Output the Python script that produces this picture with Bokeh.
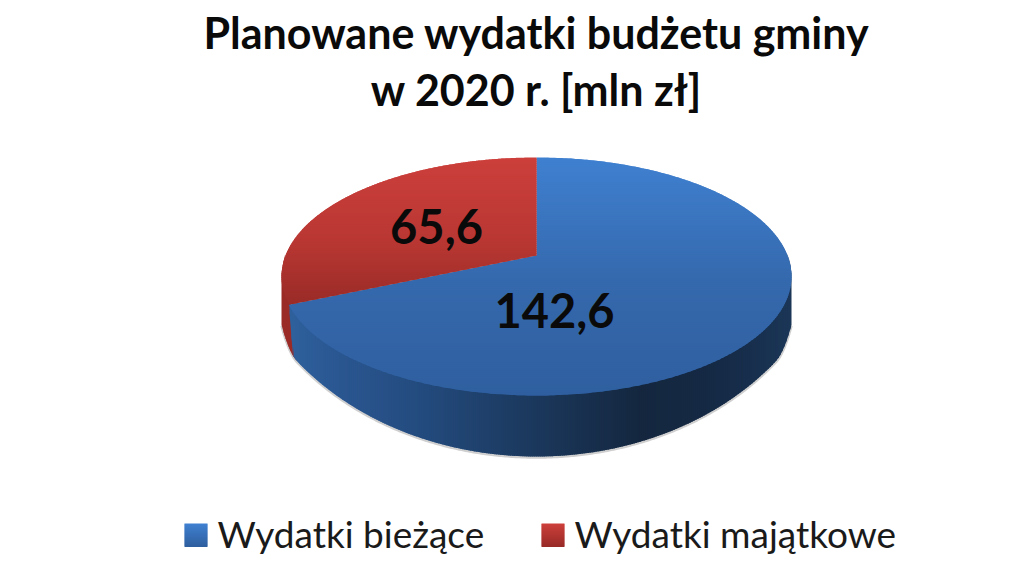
import numpy as np
from bokeh.plotting import figure
from bokeh.models import Range1d
from bokeh.core.properties import value
from bokeh.embed import file_html
from bokeh.resources import INLINE

title_lines = ["Planowane wydatki budżetu gminy", "w 2020 r. [mln zł]"]
categories = ["Wydatki bieżące", "Wydatki majątkowe"]
values = [142.6, 65.6]
value_labels = ["142,6", "65,6"]

FONT = value("Lato")
CX, CY, RX, RY = 536.0, 276.0, 255.0, 119.0
K = -21.0 / 119.0   # perspective shift of the pie centre


def lerp_hex(stops, t):
    ts = [s[0] for s in stops]
    rgb = [[int(s[1][i:i + 2], 16) for s in stops] for i in (1, 3, 5)]
    return "#%02x%02x%02x" % tuple(int(round(np.interp(t, ts, c))) for c in rgb)


def rim(theta):
    u, v = np.sin(theta), -np.cos(theta)
    d = 1 + K * v
    return CX + RX * u * np.sqrt(1 - K * K) / d, CY + RY * (v + K) / d


def clip(poly, y0, y1):
    def half(pts, keep, cross):
        out = []
        for i, a in enumerate(pts):
            b = pts[(i + 1) % len(pts)]
            if keep(a):
                out.append(a)
            if keep(a) != keep(b):
                t = (cross - a[1]) / (b[1] - a[1])
                out.append((a[0] + t * (b[0] - a[0]), cross))
        return out
    res = half(poly, lambda q: q[1] >= y0, y0)
    if res:
        res = half(res, lambda q: q[1] <= y1, y1)
    return res


p = figure(width=1016, height=560, x_range=Range1d(0, 1016), y_range=Range1d(560, 0),
           x_axis_type=None, y_axis_type=None, output_backend="svg", toolbar_location=None,
           min_border=0, outline_line_color=None, background_fill_color="white")
p.grid.visible = False

share = np.cumsum([0] + values) / sum(values) * 2 * np.pi
top_stops = [
    [(157, "#3f80d0"), (280, "#3569ad"), (395, "#2f5f9f")],
    [(157, "#cc3f3b"), (240, "#b93733"), (303, "#992b27")],
]
wall_stops = [
    [(281, "#2f629f"), (340, "#2a5690"), (420, "#234b7e"), (520, "#1c3a60"),
     (640, "#14273f"), (720, "#152a46"), (791, "#1b3658")],
    [(281, "#9a2a26"), (295, "#9a2a26")],
]


def wall_bottom(x):
    dx = np.abs(x - CX)
    return (216 + 240 * np.sqrt(np.clip(1 - (dx / 300.0) ** 2, 0, 1))
            - 0.08 * np.clip(dx - 240, 0, None) ** 2)


# soft shadow and side wall
wx = np.arange(281, 791.5, 2.0)
th = np.linspace(np.pi / 2, 3 * np.pi / 2, 1500)
rx_, ry_ = rim(th)
order = np.argsort(rx_)
rim_low = np.interp(wx, rx_[order], ry_[order])
low = np.maximum(wall_bottom(wx), rim_low)
p.line(wx, low + 1, line_color="#888888", line_alpha=0.4, line_width=2.5)

split_x, split_y = (float(v) for v in rim(share[1]))


def seam(x):
    # the seam between the two walls leans inward as it goes down
    return split_y + (x - split_x) * 12.5


xs, ys, cols = [], [], []
# red wall, painted first
for i in range(len(wx) - 1):
    if wx[i] < split_x + 6:
        x2 = wx[i + 1] + 1.5
        xs.append([wx[i], x2, x2, wx[i]])
        ys.append([rim_low[i] - 3, np.interp(x2, wx, rim_low) - 3, np.interp(x2, wx, low), low[i]])
        cols.append(wall_stops[1][0][1])
# blue wall over it
for i in range(len(wx) - 1):
    if wx[i] >= split_x - 1:
        x2 = min(wx[i + 1] + 1.5, wx[-1])
        xs.append([wx[i], x2, x2, wx[i]])
        ys.append([rim_low[i] - 3, np.interp(x2, wx, rim_low) - 3,
                   min(np.interp(x2, wx, low), seam(x2)), min(low[i], seam(wx[i]))])
        cols.append(lerp_hex(wall_stops[0], wx[i]))
p.patches(xs, ys, fill_color=cols, fill_alpha=1.0, line_color=None)

# top faces, shaded in horizontal bands (painted with overlap so that no seams show)
for i in range(len(values)):
    th = np.linspace(share[i], share[i + 1], 400)
    ex, ey = rim(th)
    poly = [(CX, CY + RY * K)] + list(zip(ex.tolist(), ey.tolist()))
    bx, by, bc = [], [], []
    for y in np.arange(156, 397, 2.0):
        c = clip(poly, y, y + 3.5)
        if len(c) >= 3:
            bx.append([q[0] for q in c])
            by.append([q[1] for q in c])
            bc.append(lerp_hex(top_stops[i], y))
    p.patches(bx, by, fill_color=bc, fill_alpha=1.0, line_color=None)

# value labels
p.text([554, 436], [310, 226], text=value_labels, text_font=FONT, text_font_style="bold",
       text_font_size="47px", text_color="#0a0a0a", text_align="center", text_baseline="middle")

# title
p.text([536, 536], [32, 89], text=title_lines, text_font=FONT, text_font_style="bold",
       text_font_size="43px", text_color="#0a0a0a", text_align="center", text_baseline="middle")

# legend
leg_stops = [[(0, "#3f80d0"), (1, "#2f5f9f")], [(0, "#cc3f3b"), (1, "#992b27")]]
for i, x0 in enumerate([184, 541]):
    hs = np.arange(0, 23, 1.0)
    cs = [lerp_hex(leg_stops[i], h / 22) for h in hs]
    p.quad(left=x0, right=x0 + 23, top=523 + hs, bottom=524.5 + hs, fill_color=cs, fill_alpha=1.0, line_color=None)
p.text([217, 574], [533, 533], text=categories, text_font=FONT, text_font_size="37px",
       text_color="#1a1a1a", text_align="left", text_baseline="middle")

open("out.html", "w").write(file_html(p, INLINE))
